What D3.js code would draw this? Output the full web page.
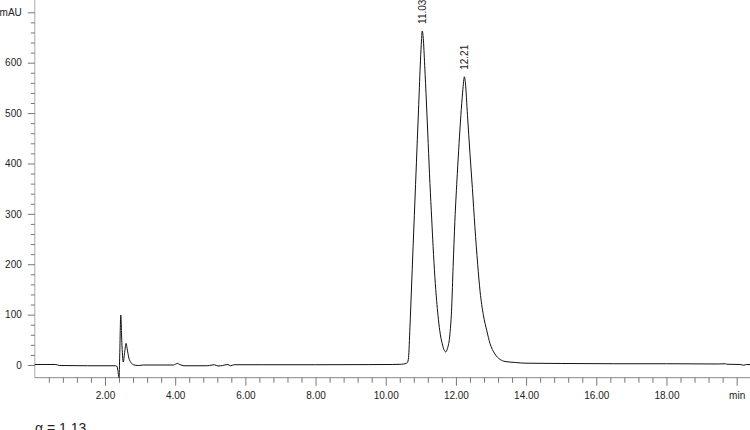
<!DOCTYPE html>
<html>
<head>
<meta charset="utf-8">
<script src="https://cdn.jsdelivr.net/npm/d3@7"></script>
<style>
  body { margin: 0; background: #fff; }
  text { font-family: "Liberation Sans", Arial, sans-serif; }
</style>
</head>
<body>
<div class="chrom_plot"></div>
<script>
// retention time (min) and absorbance (mAU)
const times = [0.00, 0.60, 0.70, 1.50, 2.30, 2.33, 2.36, 2.39, 2.40, 2.42, 2.45, 2.48, 2.52, 2.56, 2.60, 2.63,
  2.68, 2.74, 2.81, 2.95, 3.10, 3.60, 3.95, 4.06, 4.13, 4.25, 4.90, 5.05, 5.12, 5.22, 5.35, 5.50, 5.58, 5.68,
  6.50, 8.00, 9.50, 10.20, 10.45, 10.55, 10.62, 10.65, 10.69, 10.73, 10.78, 10.85, 10.90, 10.94, 10.99, 11.02,
  11.04, 11.07, 11.11, 11.16, 11.21, 11.26, 11.31, 11.35, 11.40, 11.45, 11.49, 11.54, 11.61, 11.67, 11.71,
  11.76, 11.83, 11.88, 11.92, 11.97, 12.04, 12.09, 12.14, 12.19, 12.22, 12.24, 12.27, 12.33, 12.40, 12.47, 12.54,
  12.62, 12.69, 12.78, 12.88, 12.97, 13.11, 13.26, 13.40, 13.69, 13.97, 15.00, 16.50, 18.00, 19.50, 19.68,
  19.72, 20.10, 20.20, 20.28, 20.43];
const mAU = [1, 1, -1, -1.5, -1.5, -2, -8, -22, -25, 20, 99, 45, 6, 25, 43, 33,
  14, 5, 0.5, -1, 0, 0, 0, 3, 1, -1.5, -1.5, 0, 0.5, -2, -1, 1, -1.5, 0.5,
  0.5, 0.5, 0.8, 1, 1.5, 2.5, 5, 15, 75, 145, 235, 358, 447, 517, 605, 645,
  663, 648, 595, 520, 440, 360, 290, 235, 175, 128, 98, 68, 42, 29, 26,
  33, 62, 115, 195, 285, 380, 440, 495, 540, 563, 572, 560, 495, 420, 350, 275,
  200, 145, 100, 68, 43, 22, 11, 7, 5, 3.6, 3, 2.5, 2.5, 2, 2.5,
  1.5, 1, -0.5, 1, 1];

const peakTimes = [11.03, 12.21];
const peakHeights = [663, 572];
const peakLabels = ['11.03', '12.21'];

const xMajorTicks = [2, 4, 6, 8, 10, 12, 14, 16, 18, 20];
const xTickLabels = ['2.00', '4.00', '6.00', '8.00', '10.00', '12.00', '14.00', '16.00', '18.00', 'min'];
const yMajorTicks = [0, 100, 200, 300, 400, 500, 600, 700];
const yTickLabels = ['0', '100', '200', '300', '400', '500', '600', 'mAU'];

const data = times.map((t, i) => ({t: t, v: mAU[i]}));

const width = 750, height = 430;

const xScale = d3.scaleLinear()
                 .domain([0, 20.38])
                 .range([34.8, 750]);
const yScale = d3.scaleLinear()
                 .domain([0, 700])
                 .range([365, 12.3]);
const yBottom = 377.7;

const svg = d3.select('.chrom_plot')
              .append('svg')
              .attr('width', width)
              .attr('height', height);

// axis lines
svg.append('line')
   .attr('x1', xScale(0)).attr('x2', width)
   .attr('y1', yBottom).attr('y2', yBottom)
   .attr('stroke', '#888');
svg.append('line')
   .attr('x1', xScale(0)).attr('x2', xScale(0))
   .attr('y1', 0).attr('y2', yBottom)
   .attr('stroke', '#aaa');

// x ticks
const xMinor = d3.range(0.4, 20.4, 0.4).filter(d => Math.abs(d / 2 - Math.round(d / 2)) > 0.01);
svg.append('g')
   .attr('class', 'axis x-minor')
   .attr('transform', `translate(0, ${yBottom})`)
   .call(d3.axisBottom(xScale).tickValues(xMinor).tickSize(5).tickFormat(''));
svg.append('g')
   .attr('class', 'axis x-major')
   .attr('transform', `translate(0, ${yBottom})`)
   .call(d3.axisBottom(xScale).tickValues(xMajorTicks).tickSize(8).tickPadding(6)
           .tickFormat((d, i) => xTickLabels[i]));

// y ticks
const yMinor = d3.range(20, 720, 20).filter(d => d % 100 !== 0);
svg.append('g')
   .attr('class', 'axis y-minor')
   .attr('transform', `translate(${xScale(0)}, 0)`)
   .call(d3.axisLeft(yScale).tickValues(yMinor).tickSize(4).tickFormat(''));
svg.append('g')
   .attr('class', 'axis y-major')
   .attr('transform', `translate(${xScale(0)}, 0)`)
   .call(d3.axisLeft(yScale).tickValues(yMajorTicks).tickSize(7).tickPadding(6)
           .tickFormat((d, i) => yTickLabels[i]));

svg.selectAll('.axis .domain').remove();
svg.selectAll('.axis .tick line').attr('stroke', '#777');
svg.selectAll('.axis text')
   .attr('font-size', 10)
   .attr('fill', '#222')
   .style('font-family', '"Liberation Sans", Arial, sans-serif');

// trace
const line = d3.line()
               .x(d => xScale(d.t))
               .y(d => Math.min(yScale(d.v), yBottom))
               .curve(d3.curveMonotoneX);

svg.append('path')
   .datum(data)
   .attr('d', line)
   .attr('fill', 'none')
   .attr('stroke', '#111')
   .attr('stroke-width', 1);

// peak labels
svg.selectAll('.peak-label')
   .data(peakLabels)
   .enter()
   .append('text')
   .attr('class', 'peak-label')
   .attr('transform', (d, i) => `translate(${xScale(peakTimes[i]) + 1}, ${yScale(peakHeights[i]) - 7}) rotate(-90)`)
   .attr('dy', '0.35em')
   .attr('font-size', 10)
   .attr('fill', '#222')
   .text(d => d);

svg.append('text')
   .attr('x', 35)
   .attr('y', 433)
   .attr('font-size', 14)
   .attr('fill', '#222')
   .text('α = 1.13');
</script>
</body>
</html>
